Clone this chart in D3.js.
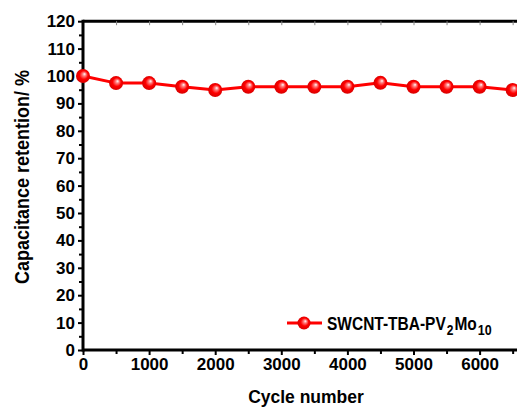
<!DOCTYPE html>
<html><head><meta charset="utf-8">
<script src="https://cdn.jsdelivr.net/npm/d3@7"></script>
<style>body{margin:0;background:#fff}svg{display:block}</style>
</head><body>
<script>
const cycles = [0,500,1000,1500,2000,2500,3000,3500,4000,4500,5000,5500,6000,6500];
const retention = [100,97.4,97.4,96.1,94.9,96.1,96.1,96.1,96.1,97.5,96.1,96.1,96.1,94.9];
const xTicks = [0,1000,2000,3000,4000,5000,6000];
const yTicks = [0,10,20,30,40,50,60,70,80,90,100,110,120];
const seriesName = ["SWCNT-TBA-PV", "2", "Mo", "10"];

const W = 517, H = 407;
const svg = d3.select("body").append("svg").attr("width", W).attr("height", H);
const font = "Arial, 'Liberation Sans', sans-serif";

const x = d3.scaleLinear().domain([0, 7000]).range([83, 83 + 7 * 66.1]);
const y = d3.scaleLinear().domain([0, 120]).range([350, 21.2]);

const defs = svg.append("defs");
const grad = defs.append("radialGradient").attr("id", "ball")
  .attr("cx", "50%").attr("cy", "50%").attr("r", "55%")
  .attr("fx", "62%").attr("fy", "35%");
grad.append("stop").attr("offset", "0%").attr("stop-color", "#ffffff");
grad.append("stop").attr("offset", "22%").attr("stop-color", "#ff8080");
grad.append("stop").attr("offset", "55%").attr("stop-color", "#ff0000");
grad.append("stop").attr("offset", "100%").attr("stop-color", "#d00000");

// Axes
const gx = svg.append("g").attr("transform", `translate(0,${y(0)})`)
  .call(d3.axisBottom(x).tickValues(xTicks).tickSize(5).tickPadding(3).tickFormat(d3.format("d")));
const gxMinor = svg.append("g").attr("transform", `translate(0,${y(0)})`)
  .call(d3.axisBottom(x).tickValues([500,1500,2500,3500,4500,5500,6500]).tickSize(4).tickFormat(""));
const gy = svg.append("g").attr("transform", `translate(${x(0)},0)`)
  .call(d3.axisLeft(y).tickValues(yTicks).tickSize(5).tickPadding(3));
const gyMinor = svg.append("g").attr("transform", `translate(${x(0)},0)`)
  .call(d3.axisLeft(y).tickValues(d3.range(5, 120, 10)).tickSize(4).tickFormat(""));
const gTop = svg.append("g").attr("transform", `translate(0,${y(120)})`)
  .call(d3.axisBottom(x).tickValues(d3.range(500, 7000, 500)).tickSize(4).tickFormat(""));

[gx, gxMinor, gy, gyMinor, gTop].forEach(g => {
  g.select(".domain").attr("stroke", "#000").attr("stroke-width", 3);
  g.selectAll(".tick line").attr("stroke", "#000").attr("stroke-width", 2);
  g.selectAll(".tick text").attr("font-family", font).attr("font-weight", "bold")
    .attr("font-size", 17).attr("fill", "#000");
});
gTop.selectAll(".tick line").attr("stroke", "#888").attr("stroke-width", 1);
gx.select(".domain").attr("d", `M${x(0)},0H${W+5}`);
gxMinor.select(".domain").remove();
gyMinor.select(".domain").remove();
gTop.select(".domain").attr("d", `M${x(0)},0H${W+5}`);
gy.select(".domain").attr("d", `M0,${y(0)+1.5}V${y(120)-1.5}`);

// Line + markers
const data = cycles.map((c, i) => ({c, v: retention[i]}));
svg.append("path").datum(data)
  .attr("fill", "none").attr("stroke", "#ff0000").attr("stroke-width", 3)
  .attr("d", d3.line().x(d => x(d.c)).y(d => y(d.v)));
svg.selectAll("circle.pt").data(data).join("circle").attr("class", "pt")
  .attr("cx", d => x(d.c)).attr("cy", d => y(d.v)).attr("r", 7)
  .attr("fill", "url(#ball)");

// Legend
const ly = 323;
svg.append("line").attr("x1", 287).attr("x2", 322).attr("y1", ly).attr("y2", ly)
  .attr("stroke", "#ff0000").attr("stroke-width", 3);
svg.append("circle").attr("cx", 304).attr("cy", ly).attr("r", 6.5).attr("fill", "url(#ball)");
const lt = svg.append("text").attr("transform", `translate(327,${ly + 7}) scale(1,1.18)`)
  .attr("font-family", font).attr("font-weight", "bold").attr("font-size", 15.5).attr("fill", "#000");
lt.append("tspan").text(seriesName[0]);
lt.append("tspan").attr("font-size", 12).attr("dx", 1).attr("dy", 4).text(seriesName[1]);
lt.append("tspan").attr("dx", 1).attr("dy", -4).text(seriesName[2]);
lt.append("tspan").attr("font-size", 12.5).attr("dx", 1).attr("dy", 4).text(seriesName[3]);

// Axis titles
svg.append("text").attr("x", 306).attr("y", 402.5).attr("text-anchor", "middle")
  .attr("font-family", font).attr("font-weight", "bold").attr("font-size", 17.5).text("Cycle number");
svg.append("text").attr("transform", `translate(29,177) rotate(-90) scale(1,1.1)`).attr("text-anchor", "middle")
  .attr("font-family", font).attr("font-weight", "bold").attr("font-size", 18).text("Capacitance retention/ %");
</script>
</body></html>
